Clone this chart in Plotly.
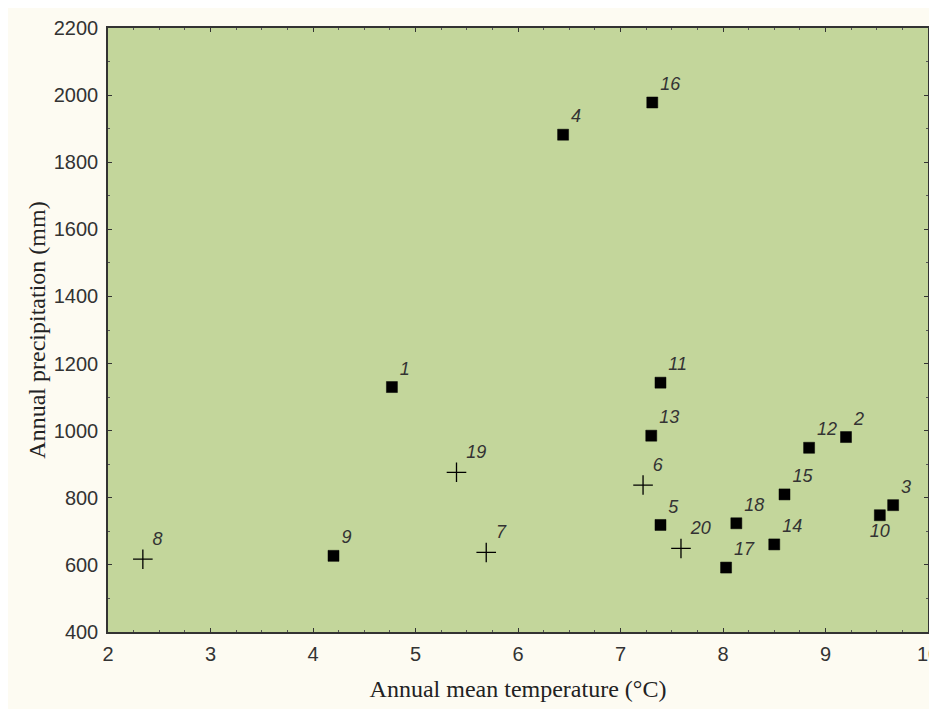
import plotly.graph_objects as go

site_ids = ["1", "2", "3", "4", "5", "6", "7", "8", "9", "10",
            "11", "12", "13", "14", "15", "16", "17", "18", "19", "20"]
temperature = [4.77, 9.20, 9.66, 6.44, 7.39, 7.22, 5.69, 2.34, 4.20, 9.53,
               7.39, 8.84, 7.30, 8.50, 8.60, 7.31, 8.03, 8.13, 5.40, 7.59]
precipitation = [1130, 981, 778, 1882, 719, 838, 637, 617, 627, 748,
                 1143, 949, 985, 661, 810, 1978, 592, 724, 876, 649]
marker_kind = ["square", "square", "square", "square", "square", "plus", "plus", "plus", "square", "square",
               "square", "square", "square", "square", "square", "square", "square", "square", "plus", "plus"]
label_pos = ["top right"] * 20
label_pos[9] = "bottom center"

fig = go.Figure()
for kind, sym, size, lw in [("square", "square", 11, 0.5), ("plus", "cross-thin", 14, 1.3)]:
    idx = [i for i, k in enumerate(marker_kind) if k == kind]
    fig.add_trace(go.Scatter(
        x=[temperature[i] for i in idx],
        y=[precipitation[i] for i in idx],
        text=[site_ids[i] for i in idx],
        textposition=[label_pos[i] for i in idx],
        mode="markers+text",
        marker=dict(symbol=sym, size=size, color="#000000",
                    line=dict(width=lw, color="#000000")),
        textfont=dict(family="Liberation Sans, Arial, sans-serif", size=18,
                      color="#333333", style="italic"),
        showlegend=False,
        cliponaxis=False,
    ))

axis_common = dict(
    showgrid=False, zeroline=False, showline=True, linecolor="#333333",
    linewidth=1.5, mirror="allticks", ticks="inside", ticklen=4,
    tickcolor="#333333", tickwidth=1.2, ticklabeloverflow="allow", automargin=False,
    tickfont=dict(family="Liberation Sans, Arial, sans-serif", size=20, color="#333333"),
)

fig.update_xaxes(
    range=[2, 10], dtick=1, tick0=2, ticklabelstandoff=3,
    minor=dict(dtick=0.25, ticks="inside", ticklen=2, tickcolor="#555555"),
    title=dict(text="Annual mean temperature (°C)", standoff=16,
               font=dict(family="Liberation Serif, Times New Roman, serif", size=24, color="#222222")),
    **axis_common,
)
fig.update_yaxes(
    range=[400, 2200], dtick=200, tick0=400, ticklabelstandoff=4,
    minor=dict(dtick=100, ticks="inside", ticklen=2, tickcolor="#555555"),
    title=dict(text="Annual precipitation (mm)", standoff=1,
               font=dict(family="Liberation Serif, Times New Roman, serif", size=24, color="#222222")),
    **axis_common,
)

fig.update_layout(
    width=929, height=701,
    margin=dict(l=100, r=9, t=20, b=77),
    paper_bgcolor="#fdfbf2",
    plot_bgcolor="#c3d69b",
)

fig.write_html("out.html")
